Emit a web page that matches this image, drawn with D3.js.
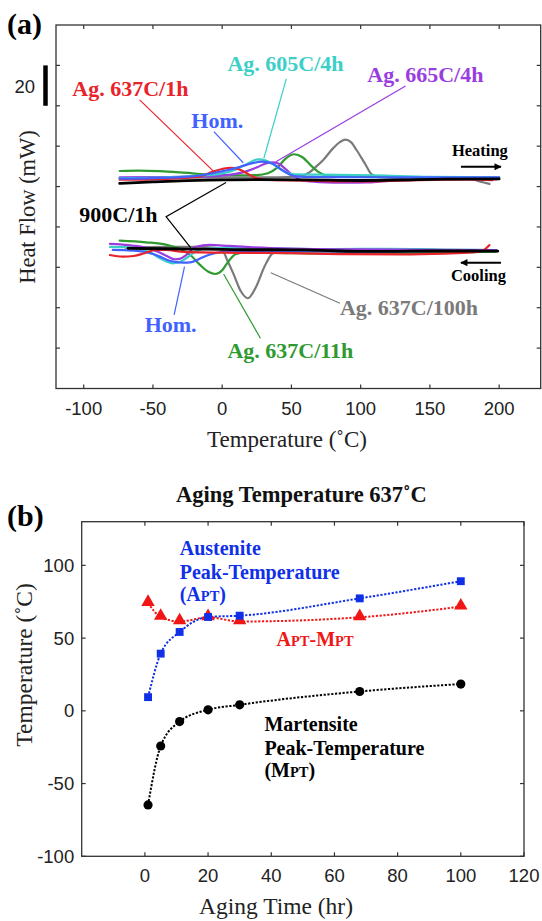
<!DOCTYPE html>
<html><head><meta charset="utf-8">
<script src="https://cdn.jsdelivr.net/npm/d3@7"></script>
<style>body{margin:0;background:#fff}</style>
</head><body>
<svg id="fig" width="542" height="921"></svg>
<script>
// ---------------- Panel (a): DSC traces (temperature in °C, heat flow in mW, curves offset) ----------------
const tempTicks = [-100, -50, 0, 50, 100, 150, 200];
const heatFlowTicks = [20, 40, 60, 80, 100, 120, 140, 160];
const scaleBarMW = [140, 160];

// heating runs  [T, mW]
const heatGray   = [[-74,104.2],[0,104.5],[40,104.5],[55,105.0],[63,107.0],[68,110.0],[73,113.2],[80,118.9],[85,122.0],[89,123.2],[93,122.0],[97,118.1],[103,111.5],[108,106.0],[113,104.7],[130,104.3],[160,104.2],[180,103.7],[186,102.5],[193,101.3]];
const heatGreen  = [[-74,107.7],[-60,107.9],[-45,107.6],[-30,107.0],[-10,106.0],[10,105.6],[25,105.7],[33,106.6],[40,109.5],[46,114.0],[52,116.0],[58,114.5],[64,110.5],[70,107.0],[76,105.4],[100,104.9],[140,104.6],[195,104.3]];
const heatPurple = [[-74,104.6],[-40,104.7],[-10,105.0],[5,105.8],[15,107.0],[25,109.5],[31,111.3],[36,112.0],[41,111.3],[46,108.5],[52,105.0],[58,103.0],[70,102.2],[90,101.9],[105,102.0],[115,102.5],[130,103.0],[160,103.5],[198,103.6]];
const heatCyan   = [[-74,104.2],[-40,104.6],[-20,105.2],[0,106.5],[10,108.5],[18,111.2],[26,113.5],[32,112.8],[38,110.5],[45,107.3],[52,106.0],[70,105.9],[110,105.6],[150,104.8],[200,104.6]];
const heatRed    = [[-74,103.4],[-50,103.6],[-30,104.2],[-16,105.0],[-7,107.3],[0,108.7],[6,109.3],[12,108.6],[18,106.5],[24,104.3],[30,103.4],[60,102.9],[90,102.5],[120,102.8],[150,103.3],[180,103.5],[195,103.2]];
const heatBlue   = [[-74,103.9],[-50,104.2],[-20,105.2],[-7,106.6],[5,108.3],[13,109.8],[22,111.6],[29,112.3],[36,111.4],[42,108.8],[49,105.8],[56,104.9],[70,104.7],[100,104.6],[150,104.5],[200,104.5]];
const heatBlack  = [[-74,101.6],[-50,102.3],[-25,102.9],[0,103.3],[25,103.4],[60,103.3],[100,103.0],[130,103.3],[160,103.7],[200,103.8]];

// cooling runs  [T, mW]
const coolGray   = [[-70,69.8],[-40,70.2],[-20,70.2],[-5,69.6],[0,68.6],[4,63.0],[8,57.0],[13.7,47.9],[18.5,44.7],[24.5,50.4],[30.5,60.3],[36.5,67.0],[45,68.8],[80,68.6],[150,68.3],[198,68.0]];
const coolGreen  = [[-74,73.2],[-55,72.4],[-40,71.1],[-30,68.9],[-23,66.1],[-16,61.2],[-10,57.8],[-5,56.7],[0,58.5],[3,61.5],[10,66.6],[17,67.4],[40,67.2],[80,66.8],[120,66.9],[160,67.3],[198,67.8]];
const coolCyan   = [[-81,70.1],[-70,70.0],[-60,69.3],[-52,67.5],[-45,64.5],[-40,62.8],[-36,62.0],[-31,62.5],[-26,64.5],[-20,67.5],[-14,69.0],[0,69.5],[40,69.3],[80,69.0],[120,69.2],[160,68.8],[198,68.5]];
const coolPurple = [[-81,71.6],[-65,70.8],[-53,69.4],[-46,67.6],[-40,65.6],[-34,64.0],[-30,64.3],[-26,66.1],[-19,70.2],[-9,71.1],[5,70.6],[20,70.0],[50,69.3],[100,68.9],[150,68.7],[198,68.5]];
const coolBlue   = [[-79,68.6],[-65,68.3],[-57,67.8],[-50,66.6],[-45,65.3],[-40,63.8],[-35,62.8],[-28,62.3],[-22,62.6],[-14,65.0],[-8,66.5],[-4,67.2],[5,67.9],[40,68.1],[100,67.8],[150,68.0],[198,68.2]];
const coolRed    = [[-81,66.1],[-72,65.3],[-64,65.6],[-56,67.0],[-48,68.6],[-40,68.6],[-30,67.8],[-15,67.4],[10,67.2],[50,67.0],[90,66.5],[130,66.4],[160,66.8],[180,67.4],[188,68.2],[193,71.0]];
const coolBlack  = [[-68,69.4],[-40,69.2],[-20,69.0],[0,68.9],[20,68.7],[40,68.7],[60,68.6],[80,68.2],[100,67.9],[120,67.9],[150,68.1],[175,68.1],[199,68.0]];

// ---------------- Panel (b): peak temperatures vs aging time at 637 °C ----------------
const agingTime      = [1, 5, 11, 20, 30, 68, 100];
const austenitePeak  = [9.4, 39.3, 54.2, 64.5, 65.4, 77.3, 89.1];
const martensitePeak = [-64.7, -24.2, -7.4, 0.7, 4.1, 13.3, 18.4];
const peakDifference = [74.1, 64.5, 61.4, 64.3, 61.4, 64.3, 71.6];
const timeTicks = [0, 20, 40, 60, 80, 100, 120];
const tempTicksB = [-100, -50, 0, 50, 100];

const C = {
  red: "#e8232a", green: "#2f9a2f", gray: "#7a7a7a", blue: "#4262ff",
  cyan: "#3ccfc8", purple: "#9a3de0", black: "#000",
  bBlue: "#1030e8", bRed: "#f01616"
};
const SANS = "'Liberation Sans', Arial, sans-serif";
const SERIF = "'Liberation Serif', 'Times New Roman', serif";
const svg = d3.select("#fig");

// ===== Panel (a) =====
const A = {left: 56, right: 540.7, top: 25, bottom: 388.5};
const xA = d3.scaleLinear().domain([-120, 230]).range([A.left, A.right]);
const yA = d3.scaleLinear().domain([0, 180]).range([A.bottom, A.top]);
const gA = svg.append("g");

function frame(g, box, xs, ys, xt, yt) {
  g.append("rect").attr("x", box.left).attr("y", box.top)
    .attr("width", box.right - box.left).attr("height", box.bottom - box.top)
    .attr("fill", "none").attr("stroke", "#333").attr("stroke-width", 1.3);
  const tl = 4;
  xt.forEach(v => {
    g.append("line").attr("x1", xs(v)).attr("x2", xs(v)).attr("y1", box.bottom).attr("y2", box.bottom - tl).attr("stroke", "#333").attr("stroke-width", 1.2);
    g.append("line").attr("x1", xs(v)).attr("x2", xs(v)).attr("y1", box.top).attr("y2", box.top + tl).attr("stroke", "#333").attr("stroke-width", 1.2);
  });
  yt.forEach(v => {
    g.append("line").attr("y1", ys(v)).attr("y2", ys(v)).attr("x1", box.left).attr("x2", box.left + tl).attr("stroke", "#333").attr("stroke-width", 1.2);
    g.append("line").attr("y1", ys(v)).attr("y2", ys(v)).attr("x1", box.right).attr("x2", box.right - tl).attr("stroke", "#333").attr("stroke-width", 1.2);
  });
}
frame(gA, A, xA, yA, tempTicks, heatFlowTicks);

gA.selectAll("text.xt").data(tempTicks).join("text")
  .attr("x", d => xA(d)).attr("y", A.bottom + 26.5)
  .attr("text-anchor", "middle").attr("font-family", SANS).attr("font-size", 18.5).attr("fill", "#222")
  .text(d => d);

const lineA = d3.line().x(d => xA(d[0])).y(d => yA(d[1])).curve(d3.curveMonotoneX);
const traces = [
  [heatGray, C.gray, 2.2], [heatGreen, C.green, 2.2], [heatPurple, C.purple, 2.2], [heatCyan, C.cyan, 2.2],
  [heatRed, C.red, 2.2], [heatBlue, C.blue, 2.2], [heatBlack, C.black, 2.8],
  [coolGray, C.gray, 2.2], [coolGreen, C.green, 2.2], [coolCyan, C.cyan, 2.2], [coolPurple, C.purple, 2.2],
  [coolBlue, C.blue, 2.2], [coolRed, C.red, 2.2], [coolBlack, C.black, 2.8]
];
traces.forEach(([data, col, w]) => {
  gA.append("path").attr("d", lineA(data)).attr("fill", "none")
    .attr("stroke", col).attr("stroke-width", w).attr("stroke-linejoin", "round").attr("stroke-linecap", "round");
});

// leader lines: [label end, trace end] in data units
const leaders = [
  [C.red,    [[-59.6,142.9],[-6.0,107.4]]],
  [C.blue,   [[-6.0,127.2],[15.2,111.8]]],
  [C.cyan,   [[46.3,153.3],[30.1,114.0]]],
  [C.purple, [[132.4,149.8],[38.8,112.3]]],
  [C.black,  [[2.8,102.0],[-40.5,85.1],[-22.8,69.8]]],
  [C.blue,   [[-34.7,36.4],[-27.2,60.3]]],
  [C.green,  [[27.6,24.9],[1.0,56.7]]],
  [C.gray,   [[85.0,42.2],[35.1,57.3]]]
];
const plain = d3.line().x(d => xA(d[0])).y(d => yA(d[1]));
leaders.forEach(([col, pts]) => {
  gA.append("path").attr("d", plain(pts)).attr("fill", "none").attr("stroke", col).attr("stroke-width", 1.2);
});

const labelsA = [
  ["Ag. 637C/1h", C.red, -108.2, 144.8],
  ["Hom.", C.blue, -22.3, 129.1],
  ["Ag. 605C/4h", C.cyan, 3.8, 157.0],
  ["Ag. 665C/4h", C.purple, 104.8, 152.0],
  ["900C/1h", C.black, -103.2, 82.4],
  ["Hom.", C.blue, -56.0, 28.2],
  ["Ag. 637C/11h", C.green, 3.8, 15.1],
  ["Ag. 637C/100h", C.gray, 85.0, 36.4]
];
labelsA.forEach(([t, col, x, y]) => {
  gA.append("text").attr("x", xA(x)).attr("y", yA(y)).attr("font-family", SERIF)
    .attr("font-weight", "bold").attr("font-size", 22).attr("fill", col).text(t);
});

// heating / cooling direction arrows
svg.append("defs").append("marker").attr("id", "head").attr("viewBox", "0 0 10 10")
  .attr("refX", 9).attr("refY", 5).attr("markerWidth", 4.2).attr("markerHeight", 3.6)
  .attr("orient", "auto").attr("markerUnits", "strokeWidth")
  .append("path").attr("d", "M0,0L10,5L0,10Z").attr("fill", "#000");
gA.append("text").attr("x", xA(165.9)).attr("y", yA(115.1)).attr("font-family", SERIF)
  .attr("font-weight", "bold").attr("font-size", 16.5).text("Heating");
gA.append("line").attr("x1", xA(172.4)).attr("x2", xA(201.3)).attr("y1", yA(109.8)).attr("y2", yA(109.8))
  .attr("stroke", "#000").attr("stroke-width", 2).attr("marker-end", "url(#head)");
gA.append("line").attr("x1", xA(201.3)).attr("x2", xA(172.4)).attr("y1", yA(62.3)).attr("y2", yA(62.3))
  .attr("stroke", "#000").attr("stroke-width", 2).attr("marker-end", "url(#head)");
gA.append("text").attr("x", xA(165.2)).attr("y", yA(53.2)).attr("font-family", SERIF)
  .attr("font-weight", "bold").attr("font-size", 16.5).text("Cooling");

// 20 mW scale bar
gA.append("line").attr("x1", 45.5).attr("x2", 45.5).attr("y1", yA(scaleBarMW[0])).attr("y2", yA(scaleBarMW[1]))
  .attr("stroke", "#000").attr("stroke-width", 4.5);
gA.append("text").attr("x", 35).attr("y", 93).attr("text-anchor", "end").attr("font-family", SANS)
  .attr("font-size", 18.5).attr("fill", "#222").text(scaleBarMW[1] - scaleBarMW[0]);

gA.append("text").attr("x", 287).attr("y", 447).attr("text-anchor", "middle")
  .attr("font-family", SERIF).attr("font-size", 23).attr("fill", "#222").text("Temperature (˚C)");
gA.append("text").attr("transform", "translate(35,207) rotate(-90)").attr("text-anchor", "middle")
  .attr("font-family", SERIF).attr("font-size", 22.5).attr("fill", "#222").text("Heat Flow (mW)");
gA.append("text").attr("x", 7).attr("y", 34).attr("font-family", SERIF).attr("font-weight", "bold")
  .attr("font-size", 30).text("(a)");

// ===== Panel (b) =====
const B = {left: 81.7, right: 524, top: 521.7, bottom: 856.3};
const xB = d3.scaleLinear().domain([-20, 120]).range([B.left, B.right]);
const yB = d3.scaleLinear().domain([-100, 130]).range([B.bottom, B.top]);
const gB = svg.append("g");
frame(gB, B, xB, yB, timeTicks, tempTicksB);

gB.selectAll("text.xt").data(timeTicks).join("text")
  .attr("x", d => xB(d)).attr("y", B.bottom + 25.5)
  .attr("text-anchor", "middle").attr("font-family", SANS).attr("font-size", 18.5).attr("fill", "#222")
  .text(d => d);
gB.selectAll("text.yt").data(tempTicksB).join("text")
  .attr("x", B.left - 7.5).attr("y", d => yB(d)).attr("dy", "0.35em")
  .attr("text-anchor", "end").attr("font-family", SANS).attr("font-size", 18.5).attr("fill", "#222")
  .text(d => d);

const lineB = vals => d3.line().x((d, i) => xB(agingTime[i])).y(d => yB(d)).curve(d3.curveMonotoneX)(vals);
const series = [
  [peakDifference, C.bRed, "tri"],
  [austenitePeak, C.bBlue, "sq"],
  [martensitePeak, C.black, "dot"]
];
series.forEach(([vals, col]) => {
  gB.append("path").attr("d", lineB(vals)).attr("fill", "none").attr("stroke", col)
    .attr("stroke-width", 2).attr("stroke-dasharray", "2.2,1.6");
});
series.forEach(([vals, col, kind]) => {
  const sym = kind === "tri" ? d3.symbolTriangle : kind === "sq" ? d3.symbolSquare : d3.symbolCircle;
  const size = kind === "tri" ? 78 : kind === "sq" ? 62 : 66;
  gB.selectAll(null).data(vals).join("path")
    .attr("transform", (d, i) => `translate(${xB(agingTime[i])},${yB(d) + (kind === "tri" ? -1 : 0)})`)
    .attr("d", d3.symbol().type(sym).size(size)).attr("fill", col);
});

function smallCapsLabel(g, x, y, col, parts) {
  const t = g.append("text").attr("x", x).attr("y", y).attr("font-family", SERIF)
    .attr("font-weight", "bold").attr("font-size", 20).attr("fill", col);
  parts.forEach(([s, small]) => t.append("tspan").attr("font-size", small ? 14.5 : 20).text(s));
}
smallCapsLabel(gB, 179.7, 555, C.bBlue, [["Austenite"]]);
smallCapsLabel(gB, 179.7, 578.5, C.bBlue, [["Peak-Temperature"]]);
smallCapsLabel(gB, 179.7, 601, C.bBlue, [["(A"], ["PT", true], [")"]]);
smallCapsLabel(gB, 276.5, 646, C.bRed, [["A"], ["PT", true], ["-M"], ["PT", true]]);
smallCapsLabel(gB, 264.4, 731, C.black, [["Martensite"]]);
smallCapsLabel(gB, 264.4, 754.5, C.black, [["Peak-Temperature"]]);
smallCapsLabel(gB, 264.4, 777, C.black, [["(M"], ["PT", true], [")"]]);

gB.append("text").attr("x", 176).attr("y", 502).attr("font-family", SERIF).attr("font-weight", "bold")
  .attr("font-size", 22.5).attr("fill", "#111").text("Aging Temperature 637˚C");
gB.append("text").attr("x", 7).attr("y", 526).attr("font-family", SERIF).attr("font-weight", "bold")
  .attr("font-size", 30).text("(b)");
gB.append("text").attr("x", 276).attr("y", 914).attr("text-anchor", "middle")
  .attr("font-family", SERIF).attr("font-size", 23.5).attr("fill", "#222").text("Aging Time (hr)");
gB.append("text").attr("transform", "translate(32,665) rotate(-90)").attr("text-anchor", "middle")
  .attr("font-family", SERIF).attr("font-size", 23.5).attr("fill", "#222").text("Temperature (˚C)");
</script>
</body></html>
